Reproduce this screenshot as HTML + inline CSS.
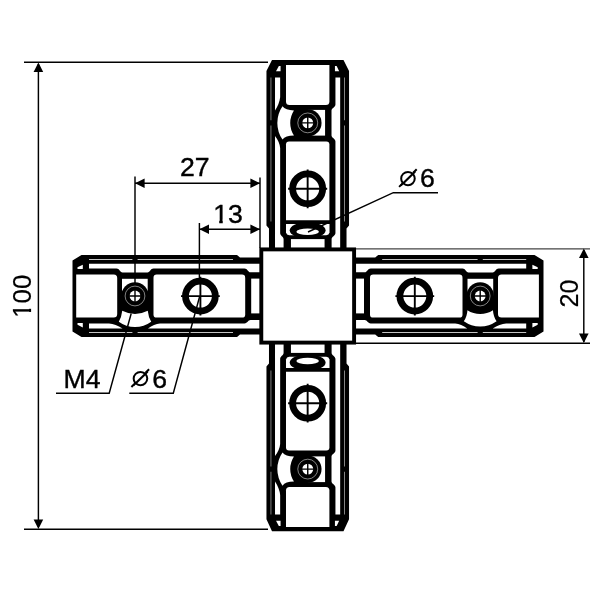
<!DOCTYPE html>
<html lang="en"><head><meta charset="utf-8"><title>Cross connector 100 x 20</title>
<style>html,body{margin:0;padding:0;background:#fff;}body{width:600px;height:600px;overflow:hidden;}svg{display:block;filter:grayscale(1);}text{font-family:"Liberation Sans",sans-serif;fill:#000;stroke:#000;stroke-width:0.4px;}text.dia{font-family:"Liberation Sans","DejaVu Sans",sans-serif;stroke:none;}</style></head><body>
<svg width="600" height="600" viewBox="0 0 600 600">
<rect width="600" height="600" fill="#fff"/>
<g><path fill="#000" d="M81.5,255 L237,255 L240,257.5 L262,257.5 L262,334.5 L240,334.5 L237,337 L81.5,337 L72.5,331.5 L72.5,260.5 Z"/><g fill="#fff"><path d="M89,259.05 H132.4 V260 H89 Z M137.6,259.05 H233 V260 H137.6 Z" fill="#c4c4c4"/><path d="M89,332.1 H132.4 V333 H89 Z M137.6,332.1 H233 V333 H137.6 Z" fill="#c4c4c4"/><path d="M89,263.8 H260 V272.3 H250.5 C248,272.3 247.5,268.5 244.5,268.5 H153.5 C150.5,268.5 150,272.4 147.5,272.4 H122.5 C120,272.4 119.5,268.5 116.5,268.5 H89 Z"/><path d="M89,323.4 L109,323.4 Q115.5,324 122.5,328.5 L89,328.5 Z"/><path d="M148,328.5 Q154,323.9 160,323.4 H244.5 C247.5,323.4 248,320 250.5,320 H260 V328.5 Z"/><path d="M77.5,269 L82.8,269 L82.8,264.8 L77.5,267.3 Z"/><path d="M77.5,323 L82.8,323 L82.8,327.5 L77.5,324.7 Z"/><path d="M76.2,274.5 L113.7,274.5 Q117.2,274.5 117.2,278 L117.2,314.1 Q117.2,317.6 113.7,317.6 L76.2,317.6 Z"/><rect x="153.5" y="274.5" width="91.7" height="43.1" rx="3.2"/><rect x="122" y="278.8" width="25.7" height="17.2"/><path d="M122.25,310.7 A28.17,28.17 0 0 0 147.75,310.7 Q148.4,317 151.2,321.7 A27.41,27.41 0 0 1 118.8,321.7 Q121.6,317 122.25,310.7 Z"/><rect x="251.2" y="278.6" width="9" height="34.8"/></g><circle cx="135" cy="296" r="13.7" fill="#000"/><circle cx="135" cy="296" r="9.9" fill="none" stroke="#b8b8b8" stroke-width="0.7"/><circle cx="135" cy="296" r="5.4" fill="#fff"/><path d="M129,296 H141 M135,290 V302" stroke="#000" stroke-width="1.4" fill="none"/><circle cx="200.4" cy="296.1" r="14.9" fill="none" stroke="#000" stroke-width="6.8"/><path d="M181,296.1 H219.8 M200.4,276.7 V315.5" stroke="#000" stroke-width="1.9" fill="none"/></g>
<g transform="translate(615.2,0) scale(-1,1)"><path fill="#000" d="M80.7,255 L237,255 L240,257.5 L262,257.5 L262,334.5 L240,334.5 L237,337 L80.7,337 L71.7,331.5 L71.7,260.5 Z"/><g fill="#fff"><path d="M89,259.05 H132.4 V260 H89 Z M137.6,259.05 H233 V260 H137.6 Z" fill="#c4c4c4"/><path d="M89,332.1 H132.4 V333 H89 Z M137.6,332.1 H233 V333 H137.6 Z" fill="#c4c4c4"/><path d="M89,263.8 H260 V272.3 H250.5 C248,272.3 247.5,268.5 244.5,268.5 H152.7 C149.7,268.5 149.2,272.4 146.7,272.4 H122.5 C120,272.4 119.5,268.5 116.5,268.5 H89 Z"/><path d="M89,323.4 L109,323.4 Q115.5,324 122.5,328.5 L89,328.5 Z"/><path d="M148,328.5 Q154,323.9 160,323.4 H244.5 C247.5,323.4 248,320 250.5,320 H260 V328.5 Z"/><path d="M77.5,269 L82.8,269 L82.8,264.8 L77.5,267.3 Z"/><path d="M77.5,323 L82.8,323 L82.8,327.5 L77.5,324.7 Z"/><path d="M76.3,274.5 L113.7,274.5 Q117.2,274.5 117.2,278 L117.2,314.1 Q117.2,317.6 113.7,317.6 L76.3,317.6 Z"/><rect x="152.7" y="274.5" width="92.5" height="43.1" rx="3.2"/><rect x="122" y="278.8" width="25.7" height="17.2"/><path d="M122.25,310.3 A23.29,23.29 0 0 0 147.75,310.3 Q148.2,317 151.4,321.3 A28.46,28.46 0 0 1 118.6,321.3 Q121.8,317 122.25,310.3 Z"/><rect x="251.2" y="278.6" width="9" height="34.8"/></g><circle cx="135" cy="296" r="13.7" fill="#000"/><circle cx="135" cy="296" r="9.9" fill="none" stroke="#b8b8b8" stroke-width="0.7"/><circle cx="135" cy="296" r="5.4" fill="#fff"/><path d="M129,296 H141 M135,290 V302" stroke="#000" stroke-width="1.4" fill="none"/><circle cx="200.4" cy="296.1" r="14.9" fill="none" stroke="#000" stroke-width="6.8"/><path d="M181,296.1 H219.8 M200.4,276.7 V315.5" stroke="#000" stroke-width="1.9" fill="none"/></g>
<g transform="translate(0.15,0) rotate(90 307.6 296.0) translate(0,296.0) scale(1,1.007) translate(0,-296.0)"><path fill="#000" d="M82.6,255 L237,255 L240,257.5 L262,257.5 L262,334.5 L240,334.5 L237,337 L82.6,337 L71.6,331.5 L71.6,260.5 Z"/><g fill="#fff"><path d="M89,259.05 H131.9 V260 H89 Z M137.1,259.05 H233 V260 H137.1 Z" fill="#8a8a8a"/><path d="M89,332.1 H131.9 V333 H89 Z M137.1,332.1 H233 V333 H137.1 Z" fill="#8a8a8a"/><path d="M89,263.8 H260 V272.3 H250.5 C248,272.3 247.5,268.5 244.5,268.5 H153 C150,268.5 149.5,272.4 147,272.4 H122 C119.5,272.4 119,268.5 116,268.5 H89 Z"/><path d="M89,323.4 L108.5,323.4 Q115,324 122,328.5 L89,328.5 Z"/><path d="M147.5,328.5 Q153.5,323.9 159.5,323.4 H244.5 C247.5,323.4 248,320 250.5,320 H260 V328.5 Z"/><path d="M77.5,269 L82.8,269 L82.8,264.8 L77.5,267.3 Z"/><path d="M77.5,323 L82.8,323 L82.8,327.5 L77.5,324.7 Z"/><path d="M76.6,274.5 L113.2,274.5 Q116.7,274.5 116.7,278 L116.7,314.1 Q116.7,317.6 113.2,317.6 L76.6,317.6 Z"/><path d="M156,274.5 H231.75 V317.6 H156 Q153,317.6 153,314.6 V277.5 Q153,274.5 156,274.5 Z"/><rect x="121.5" y="278.8" width="25.7" height="17.2"/><path d="M122,309.7 A22.96,22.96 0 0 0 147,309.7 Q147.1,318.2 151.15,321.1 A29.73,29.73 0 0 1 117.85,321.1 Q121.9,318.2 122,309.7 Z"/><path d="M235.5,274.4 H244.2 Q246.75,274.9 246.75,277.6 V314.4 Q246.75,317.1 244.2,317.6 H235.5 Z"/><rect x="250.7" y="279.3" width="9.5" height="33.4"/></g><circle cx="134.5" cy="296" r="13.7" fill="#000"/><circle cx="134.5" cy="296" r="9.9" fill="none" stroke="#b8b8b8" stroke-width="0.7"/><circle cx="134.5" cy="296" r="5.4" fill="#fff"/><path d="M128.5,296 H140.5 M134.5,290 V302" stroke="#000" stroke-width="1.4" fill="none"/><circle cx="200.4" cy="296.1" r="14.9" fill="none" stroke="#000" stroke-width="6.8"/><path d="M181,296.1 H219.8 M200.4,276.7 V315.5" stroke="#000" stroke-width="1.9" fill="none"/><ellipse cx="241.9" cy="296.1" rx="8.3" ry="17.8" fill="#000"/><ellipse cx="243.4" cy="296.1" rx="3.2" ry="11.2" fill="#fff"/></g>
<g transform="translate(0.15,592.0) scale(1,-1) rotate(90 307.6 296.0) translate(0,296.0) scale(1,1.007) translate(0,-296.0)"><path fill="#000" d="M84.3,255 L237,255 L240,257.5 L262,257.5 L262,334.5 L240,334.5 L237,337 L84.3,337 L72.3,331.5 L72.3,260.5 Z"/><g fill="#fff"><path d="M89,259.05 H131.9 V260 H89 Z M137.1,259.05 H233 V260 H137.1 Z" fill="#8a8a8a"/><path d="M89,332.1 H131.9 V333 H89 Z M137.1,332.1 H233 V333 H137.1 Z" fill="#8a8a8a"/><path d="M89,263.8 H260 V272.3 H250.5 C248,272.3 247.5,268.5 244.5,268.5 H153 C150,268.5 149.5,272.4 147,272.4 H122 C119.5,272.4 119,268.5 116,268.5 H89 Z"/><path d="M89,323.4 L108.5,323.4 Q115,324 122,328.5 L89,328.5 Z"/><path d="M147.5,328.5 Q153.5,323.9 159.5,323.4 H244.5 C247.5,323.4 248,320 250.5,320 H260 V328.5 Z"/><path d="M77.5,269 L82.8,269 L82.8,264.8 L77.5,267.3 Z"/><path d="M77.5,323 L82.8,323 L82.8,327.5 L77.5,324.7 Z"/><path d="M76.5,274.5 L113.2,274.5 Q116.7,274.5 116.7,278 L116.7,314.1 Q116.7,317.6 113.2,317.6 L76.5,317.6 Z"/><path d="M156,274.5 H231.75 V317.6 H156 Q153,317.6 153,314.6 V277.5 Q153,274.5 156,274.5 Z"/><rect x="121.5" y="278.8" width="25.7" height="17.2"/><path d="M122,309.7 A22.96,22.96 0 0 0 147,309.7 Q147.1,318.2 151.15,321.1 A29.73,29.73 0 0 1 117.85,321.1 Q121.9,318.2 122,309.7 Z"/><path d="M235.5,274.4 H244.2 Q246.75,274.9 246.75,277.6 V314.4 Q246.75,317.1 244.2,317.6 H235.5 Z"/><rect x="250.7" y="279.3" width="9.5" height="33.4"/></g><circle cx="134.5" cy="296" r="13.7" fill="#000"/><circle cx="134.5" cy="296" r="9.9" fill="none" stroke="#b8b8b8" stroke-width="0.7"/><circle cx="134.5" cy="296" r="5.4" fill="#fff"/><path d="M128.5,296 H140.5 M134.5,290 V302" stroke="#000" stroke-width="1.4" fill="none"/><circle cx="200.4" cy="296.1" r="14.9" fill="none" stroke="#000" stroke-width="6.8"/><path d="M181,296.1 H219.8 M200.4,276.7 V315.5" stroke="#000" stroke-width="1.9" fill="none"/><ellipse cx="241.1" cy="296.1" rx="8.3" ry="17.8" fill="#000"/><ellipse cx="242.6" cy="296.1" rx="3.2" ry="11.2" fill="#fff"/></g>
<rect x="261.3" y="249.4" width="92.8" height="93.2" fill="#fff" stroke="#000" stroke-width="3.9"/>
<g stroke="#000" stroke-width="1.45" fill="none"><path d="M24,62.25 H268 M24,529.25 H268 M38.4,64 V527"/><path d="M135,176.5 V283 M260,177.5 V248 M135,183.25 H260"/><path d="M199.4,223 V279 M199.4,229.25 H260"/><path d="M356,343.3 H590 M583.8,250 V342"/><path d="M356,248.9 H590" stroke="#444" stroke-width="1.4"/><path d="M56,393.2 H109.2 L131.2,313.5"/><path d="M129.3,393.2 H173.3 L199.5,297"/><path d="M438,192.7 H393.3 L308,232"/></g><path d="M38.4,62.4 L43.2,72 L33.6,72 Z" fill="#000"/><path d="M38.4,529.1 L33.6,519.5 L43.2,519.5 Z" fill="#000"/><path d="M135,183.25 L144.6,178.45 L144.6,188.05 Z" fill="#000"/><path d="M260,183.25 L250.4,188.05 L250.4,178.45 Z" fill="#000"/><path d="M199.4,229.25 L209,224.45 L209,234.05 Z" fill="#000"/><path d="M260,229.25 L250.4,234.05 L250.4,224.45 Z" fill="#000"/><path d="M583.8,248.5 L588.6,258.1 L579,258.1 Z" fill="#000"/><path d="M583.8,343.1 L579,333.5 L588.6,333.5 Z" fill="#000"/>
<text x="194.7" y="176.1" font-size="26.6" text-anchor="middle">27</text><text x="228" y="222.6" font-size="26.6" text-anchor="middle">13</text><text transform="translate(30.9,296.2) rotate(-90) scale(0.985,1)" font-size="26.4" text-anchor="middle" style="stroke-width:0.2px">100</text><text transform="translate(578.4,293.5) rotate(-90) scale(0.95,1)" font-size="26.4" text-anchor="middle" style="stroke-width:0.2px">20</text><text x="63.5" y="387.5" font-size="26.6">M4</text><text x="152.3" y="387.5" font-size="26.6">6</text><text x="420" y="187.4" font-size="26.6">6</text><g fill="#fff"><rect x="213.5" y="219.6" width="5.7" height="4.6"/><rect x="222.75" y="219.6" width="5.6" height="4.6"/><rect x="28.2" y="303" width="4" height="5.8"/><rect x="28.2" y="311.95" width="4" height="5.2"/></g><text class="dia" x="131.6" y="385.5" font-size="29.5">⌀</text><path d="M131.4,387 L135,383.4 M145.6,372.8 L149.1,369.3 M399.1,186.9 L402.6,183.4 M413.2,172.8 L416.7,169.3" stroke="#000" stroke-width="2" fill="none"/><text class="dia" x="399.1" y="185.5" font-size="29.5">⌀</text>
</svg></body></html>
